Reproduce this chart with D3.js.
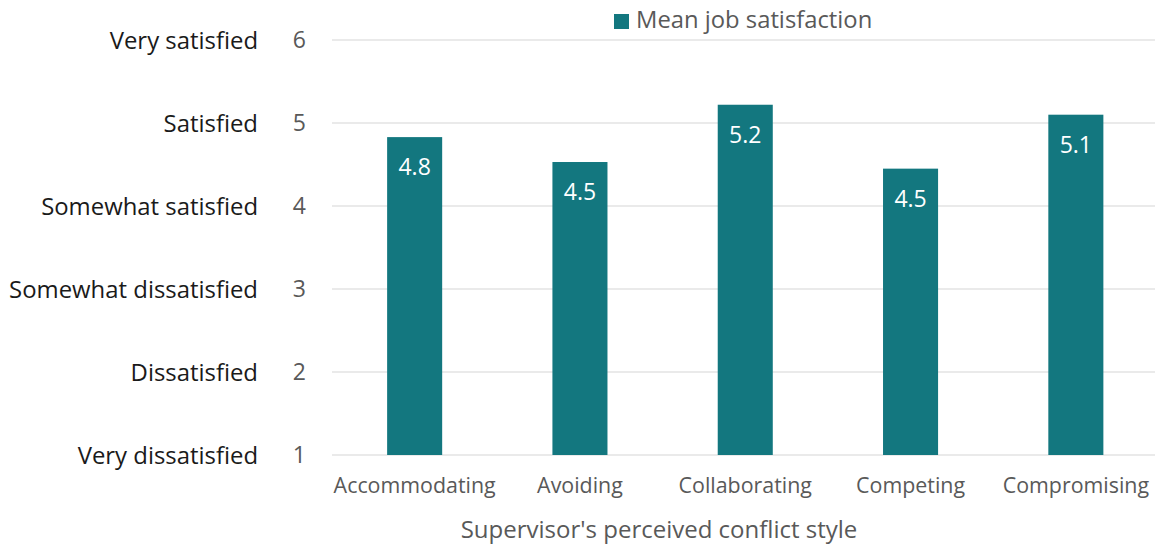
<!DOCTYPE html>
<html><head><meta charset="utf-8">
<script src="https://cdn.jsdelivr.net/npm/d3@7"></script>
<style>
html,body{margin:0;padding:0;background:#fff;}
svg{display:block;font-family:"Open Sans",sans-serif;}
</style></head>
<body><svg id="c" width="1155" height="546"></svg>
<script>
const categories = ["Accommodating","Avoiding","Collaborating","Competing","Compromising"];
const values = [4.83, 4.53, 5.22, 4.45, 5.10];
const valueLabels = ["4.8","4.5","5.2","4.5","5.1"];
const yTicks = [1,2,3,4,5,6];
const yTickNames = ["Very dissatisfied","Dissatisfied","Somewhat dissatisfied","Somewhat satisfied","Satisfied","Very satisfied"];
const seriesName = "Mean job satisfaction";
const xTitle = "Supervisor's perceived conflict style";

const svg = d3.select("#c");
const color = "#13777f";
const x = d3.scaleBand().domain(categories).range([332, 1158.5]).paddingInner(0.667).paddingOuter(0.3335);
const y = d3.scaleLinear().domain([1,6]).range([455, 40]);

// gridlines
svg.append("g").selectAll("line").data(yTicks).join("line")
  .attr("x1", 332).attr("x2", 1155)
  .attr("y1", d=>y(d)).attr("y2", d=>y(d))
  .attr("stroke", "#e3e3e3").attr("stroke-width", 1.5);

// y numeric ticks
svg.append("g").selectAll("text").data(yTicks).join("text")
  .attr("x", 306).attr("y", d=>y(d)).attr("dy","0.36em")
  .attr("text-anchor","end").attr("font-size",23).attr("fill","#595959")
  .text(d=>d);

// y category names
svg.append("g").selectAll("text").data(yTicks).join("text")
  .attr("x", 258).attr("y", d=>y(d)).attr("dy","0.36em")
  .attr("text-anchor","end").attr("font-size",23.9).attr("fill","#1a1a1a")
  .text((d,i)=>yTickNames[i]);

// bars
svg.append("g").selectAll("rect").data(categories).join("rect")
  .attr("x", d=>x(d)).attr("width", x.bandwidth())
  .attr("y", (d,i)=>y(values[i])).attr("height", (d,i)=>y(1)-y(values[i]))
  .attr("fill", color);

// value labels
svg.append("g").selectAll("text").data(categories).join("text")
  .attr("x", d=>x(d)+x.bandwidth()/2).attr("y", (d,i)=>y(values[i])+30).attr("dy","0.36em")
  .attr("text-anchor","middle").attr("font-size",23).attr("fill","#fff")
  .text((d,i)=>valueLabels[i]);

// x axis labels
const xAxis = d3.axisBottom(x).tickSize(0).tickPadding(0);
const gx = svg.append("g").attr("transform","translate(0,455)").call(xAxis);
gx.select(".domain").remove();
gx.selectAll("text").attr("font-family","Open Sans, sans-serif").attr("font-size",21.4).attr("fill","#595959").attr("dy",null).attr("y",38);

// x title
svg.append("text").attr("x", 659).attr("y", 538).attr("text-anchor","middle")
  .attr("font-size",24).attr("fill","#595959").text(xTitle);

// legend
svg.append("rect").attr("x",614).attr("y",14).attr("width",15).attr("height",15).attr("fill",color);
svg.append("text").attr("x",636).attr("y",28).attr("font-size",23.8).attr("fill","#595959").text(seriesName);
</script></body></html>
